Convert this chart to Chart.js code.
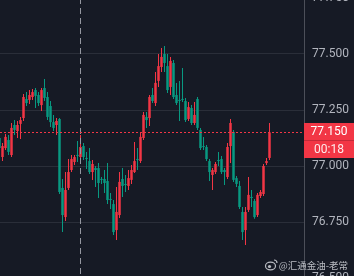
<!DOCTYPE html>
<html>
<head>
<meta charset="utf-8">
<script src="https://cdn.jsdelivr.net/npm/chart.js@4.4.1/dist/chart.umd.min.js"></script>
<style>
  html, body { margin: 0; padding: 0; background: #161a25; overflow: hidden; }
  #wrap { position: absolute; left: 0; top: -2px; width: 354px; height: 280px; }
</style>
</head>
<body>
<div id="wrap"><canvas id="kline"></canvas></div>
<script>
// OHLC, one candle per slot, oldest first
const opens = [
  77.125, 77.040, 77.080, 77.116, 77.049, 77.183, 77.156, 77.188, 77.214, 77.299,
  77.295, 77.308, 77.339, 77.317, 77.272, 77.348, 77.308, 77.268, 77.196, 77.183,
  77.210, 76.902, 76.772, 76.902, 76.982, 77.018, 77.049, 77.040, 77.089, 77.036,
  77.022, 76.973, 76.991, 76.991, 76.942, 76.942, 76.933, 76.853, 76.830, 76.714,
  76.781, 76.942, 76.920, 76.911, 76.938, 76.973, 77.031, 77.022, 77.125, 77.219,
  77.214, 77.317, 77.281, 77.380, 77.442, 77.500, 77.446, 77.353, 77.460, 77.317,
  77.295, 77.299, 77.290, 77.210, 77.259, 77.192, 77.299, 77.161, 77.089, 77.085,
  77.022, 76.960, 76.973, 77.027, 77.031, 76.982, 76.951, 77.089, 77.152, 76.946,
  76.911, 76.795, 76.714, 76.804, 76.862, 76.844, 76.781, 76.866, 76.875, 77.013,
  77.036
];
const highs = [
  77.138, 77.103, 77.143, 77.138, 77.192, 77.205, 77.201, 77.219, 77.321, 77.330,
  77.339, 77.344, 77.348, 77.330, 77.348, 77.388, 77.330, 77.290, 77.228, 77.214,
  77.214, 76.942, 76.973, 77.031, 77.049, 77.049, 77.112, 77.138, 77.103, 77.063,
  77.080, 77.027, 77.000, 77.013, 76.951, 76.982, 77.013, 76.880, 76.848, 76.906,
  76.973, 76.991, 76.960, 76.982, 77.004, 77.107, 77.080, 77.147, 77.241, 77.241,
  77.317, 77.348, 77.420, 77.500, 77.527, 77.536, 77.500, 77.487, 77.473, 77.371,
  77.380, 77.438, 77.304, 77.286, 77.272, 77.286, 77.308, 77.170, 77.130, 77.094,
  77.031, 76.991, 77.018, 77.063, 77.045, 76.991, 77.103, 77.210, 77.161, 76.955,
  76.933, 76.817, 76.817, 76.951, 76.893, 76.853, 76.880, 76.893, 77.009, 77.036,
  77.192
];
const lows = [
  77.071, 77.022, 77.071, 77.049, 77.040, 77.138, 77.125, 77.121, 77.201, 77.268,
  77.277, 77.295, 77.259, 77.268, 77.246, 77.290, 77.205, 77.174, 77.156, 77.138,
  76.875, 76.705, 76.755, 76.893, 76.973, 77.004, 77.018, 77.027, 77.027, 76.987,
  76.964, 76.938, 76.906, 76.857, 76.920, 76.880, 76.830, 76.808, 76.692, 76.670,
  76.768, 76.862, 76.884, 76.893, 76.920, 76.969, 76.982, 77.013, 77.116, 77.170,
  77.179, 77.281, 77.268, 77.353, 77.420, 77.420, 77.326, 77.317, 77.299, 77.272,
  77.201, 77.286, 77.196, 77.201, 77.183, 77.183, 77.161, 77.071, 77.071, 77.022,
  76.933, 76.893, 76.964, 77.000, 76.964, 76.915, 76.942, 77.013, 76.929, 76.906,
  76.808, 76.670, 76.647, 76.795, 76.817, 76.764, 76.772, 76.857, 76.866, 77.004,
  77.027
];
const closes = [
  77.080, 77.089, 77.130, 77.063, 77.170, 77.161, 77.183, 77.205, 77.308, 77.281,
  77.317, 77.330, 77.313, 77.281, 77.339, 77.304, 77.219, 77.196, 77.170, 77.201,
  76.884, 76.781, 76.893, 76.973, 77.031, 77.040, 77.045, 77.085, 77.040, 77.031,
  76.973, 77.009, 76.982, 76.924, 76.938, 76.924, 76.848, 76.848, 76.705, 76.795,
  76.929, 76.911, 76.915, 76.946, 76.982, 77.022, 77.027, 77.130, 77.228, 77.205,
  77.308, 77.290, 77.371, 77.446, 77.487, 77.460, 77.339, 77.469, 77.308, 77.281,
  77.290, 77.295, 77.205, 77.263, 77.192, 77.228, 77.170, 77.080, 77.085, 77.031,
  76.973, 76.982, 77.009, 77.022, 76.973, 76.973, 77.085, 77.192, 76.938, 76.920,
  76.817, 76.705, 76.795, 76.871, 76.857, 76.772, 76.871, 76.884, 77.000, 77.022,
  77.150
];
const yTicks = [76.5, 76.75, 77.0, 77.25, 77.5, 77.75];

const crosshairIndex = 27;
const countdown = '00:18';
const watermark = '@汇通金油-老常';

const upColor = '#f23645';
const downColor = '#089981';

const lastPrice = closes[closes.length - 1];
const idx = closes.map((_, i) => i);
const colors = idx.map(i => closes[i] >= opens[i] ? upColor : downColor);

const overlay = {
  id: 'overlay',
  afterDatasetsDraw(chart) {
    const { ctx, chartArea, scales: { x, y } } = chart;
    ctx.save();
    // crosshair
    const cx = Math.floor(x.getPixelForValue(crosshairIndex)) + 0.5;
    ctx.strokeStyle = '#9598a1';
    ctx.lineWidth = 1;
    ctx.setLineDash([6, 4]);
    ctx.beginPath();
    ctx.moveTo(cx, 0);
    ctx.lineTo(cx, chart.height);
    ctx.stroke();
    // last price line
    const py = Math.floor(y.getPixelForValue(lastPrice)) + 0.5;
    ctx.strokeStyle = upColor;
    ctx.setLineDash([2, 2]);
    ctx.beginPath();
    ctx.moveTo(chartArea.left, py);
    ctx.lineTo(chartArea.right, py);
    ctx.stroke();
    ctx.restore();
  },
  afterDraw(chart) {
    const { ctx, chartArea, scales: { y } } = chart;
    const bx = chartArea.right;
    const bw = chart.width - bx;
    const py = Math.round(y.getPixelForValue(lastPrice));
    ctx.save();
    ctx.fillStyle = upColor;
    ctx.fillRect(bx, py - 9, bw, 17);
    ctx.fillRect(bx, py + 9, bw, 17);
    ctx.fillStyle = '#c42a38';
    ctx.fillRect(bx, py + 8, bw, 1);
    ctx.font = '12px Roboto';
    ctx.textAlign = 'center';
    ctx.textBaseline = 'middle';
    ctx.fillStyle = '#ffffff';
    ctx.fillText(lastPrice.toFixed(3), bx + bw / 2, py);
    ctx.fillStyle = 'rgba(255,255,255,0.9)';
    ctx.fillText(countdown, bx + bw / 2, py + 18);

    // watermark
    const wy = chart.height - 13;
    ctx.fillStyle = 'rgba(214,216,222,0.85)';
    ctx.font = '9.5px "Noto Sans CJK SC"';
    ctx.textAlign = 'right';
    ctx.fillText(watermark, 348, wy);
    // weibo-like mark
    ctx.strokeStyle = 'rgba(214,216,222,0.85)';
    ctx.lineWidth = 1.2;
    ctx.beginPath();
    ctx.ellipse(270.5, wy + 1, 5, 3.8, 0, 0, Math.PI * 2);
    ctx.stroke();
    ctx.beginPath();
    ctx.arc(269.5, wy + 1.5, 1.6, 0, Math.PI * 2);
    ctx.fill();
    ctx.beginPath();
    ctx.arc(274, wy - 2, 3, -Math.PI / 2, 0);
    ctx.stroke();
    ctx.restore();
  }
};

new Chart(document.getElementById('kline'), {
  type: 'bar',
  data: {
    datasets: [
      {
        label: 'body',
        data: idx.map(i => ({ x: i, y: [opens[i], closes[i]] })),
        backgroundColor: colors,
        barThickness: 2.5,
        minBarLength: 1,
        inflateAmount: 0,
        grouped: false,
        order: 0
      },
      {
        label: 'wick',
        data: idx.map(i => ({ x: i, y: [lows[i], highs[i]] })),
        backgroundColor: colors,
        barThickness: 1,
        inflateAmount: 0,
        grouped: false,
        order: 1
      }
    ]
  },
  options: {
    responsive: true,
    maintainAspectRatio: false,
    animation: false,
    layout: { padding: 0 },
    plugins: {
      legend: { display: false },
      tooltip: { enabled: false }
    },
    scales: {
      x: {
        type: 'linear',
        display: false,
        offset: false,
        min: 1 / 6,
        max: 101.5
      },
      y: {
        position: 'right',
        min: yTicks[0],
        max: yTicks[yTicks.length - 1],
        afterBuildTicks: s => { s.ticks = yTicks.map(v => ({ value: v })); },
        afterFit: s => { s.width = 50; s.paddingTop = 0; s.paddingBottom = 0; },
        grid: { color: '#2a2e39', drawTicks: false },
        border: { color: '#4c4f59' },
        ticks: {
          color: '#b2b5be',
          padding: 8,
          font: { family: 'Roboto', size: 12 },
          callback: v => v.toFixed(3)
        }
      }
    }
  },
  plugins: [overlay]
});
</script>
</body>
</html>
